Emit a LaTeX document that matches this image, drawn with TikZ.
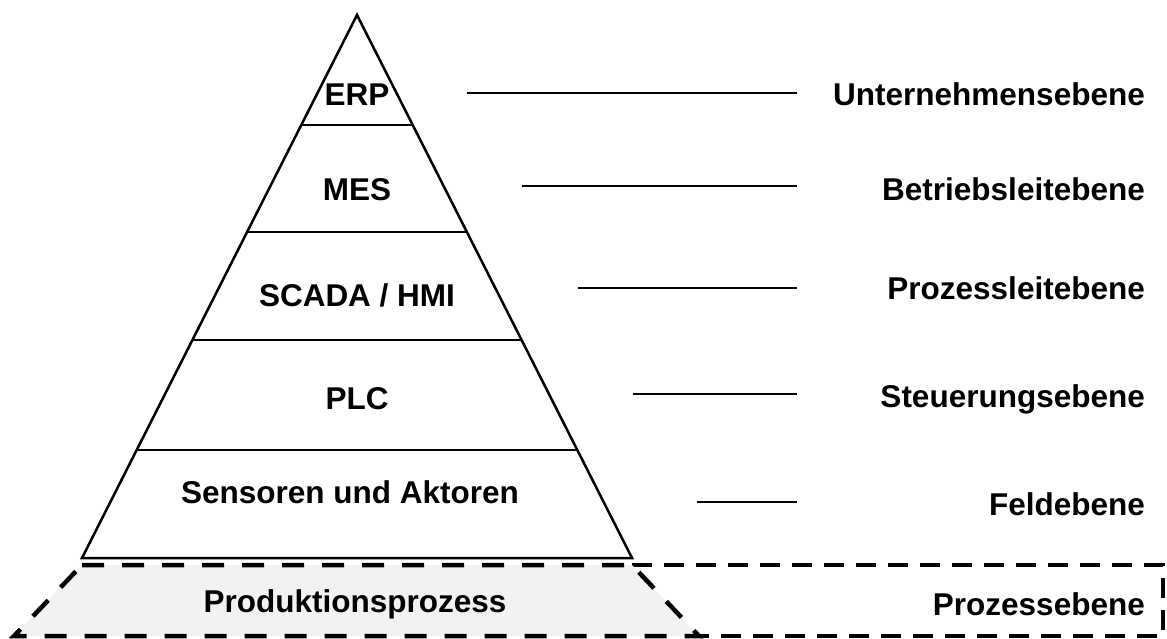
\documentclass[tikz,border=0pt]{standalone}
\usepackage{fontspec}
\setmainfont{Liberation Sans}
\usetikzlibrary{calc}
\begin{document}
\begin{tikzpicture}[x=1pt,y=-1pt,
  lbl/.style={font=\bfseries\fontsize{31.5}{36}\selectfont, inner sep=0pt},
  lvl/.style={lbl, anchor=base east},
  tier/.style={lbl, anchor=base},
  pyr/.style={line width=2.5pt, line join=miter},
  tick/.style={line width=2pt},
  proc/.style={line width=4.5pt, dash pattern=on 22pt off 18pt, fill=black!5},
  frame/.style={line width=4.5pt, dash pattern=on 20pt off 12pt}]
\useasboundingbox (0,0) rectangle (1167,638);

% pyramid corners
\coordinate (apex) at (357,15);
\coordinate (bl) at (82,558);
\coordinate (br) at (632,558);

% process level: dashed band on the right and gray trapezoid
\draw[frame] (632,565) -- (1163,565) -- (1163,636) -- (690,636);
\draw[proc] (82,565) -- (632,565) -- (699,636) -- (14,636) -- cycle;

% pyramid outline and layer dividers
\draw[pyr] (apex) -- (br) -- (bl) -- cycle;
\foreach \yy in {125,232,340,450}{
  \draw[pyr] ($(apex)!{(\yy-15)/543}!(bl)$) -- ($(apex)!{(\yy-15)/543}!(br)$);
}

% layer names inside the pyramid
\node[tier] (erp)  at (357,105) {ERP};
\node[tier] (mes)  at (357,200) {MES};
\node[tier] (scada) at (357,306) {SCADA / HMI};
\node[tier] (plc)  at (357,409) {PLC};
\node[tier] (sens) at (350,503) {Sensoren und Aktoren};
\node[tier] (prod) at (355,612) {Produktionsprozess};

% level names on the right
\node[lvl] (l1) at (1145,105) {Unternehmensebene};
\node[lvl] (l2) at (1145,200) {Betriebsleitebene};
\node[lvl] (l3) at (1145,299) {Prozessleitebene};
\node[lvl] (l4) at (1145,407) {Steuerungsebene};
\node[lvl] (l5) at (1145,515) {Feldebene};
\node[lvl] (l6) at (1145,615) {Prozessebene};

% leader lines between the layers and the level names
\coordinate (a1) at (467,93);  \coordinate (b1) at (797,93);
\coordinate (a2) at (522,186); \coordinate (b2) at (797,186);
\coordinate (a3) at (578,288); \coordinate (b3) at (797,288);
\coordinate (a4) at (633,394); \coordinate (b4) at (797,394);
\coordinate (a5) at (697,502); \coordinate (b5) at (797,502);
\foreach \i in {1,...,5}{\draw[tick] (a\i) -- (b\i);}
\end{tikzpicture}
\end{document}
